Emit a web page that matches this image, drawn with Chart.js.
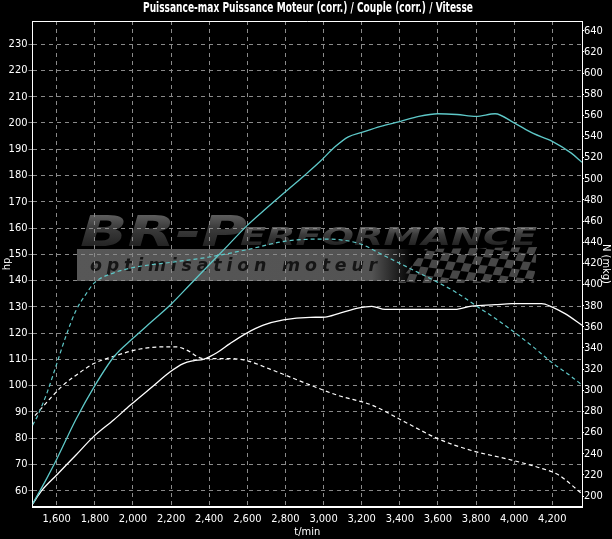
<!DOCTYPE html>
<html>
<head>
<meta charset="utf-8">
<script src="https://cdn.jsdelivr.net/npm/chart.js@4/dist/chart.umd.min.js"></script>
<style>
html,body{margin:0;padding:0;background:#000;}
canvas{display:block;}
</style>
</head>
<body>
<canvas id="c" width="612" height="539"></canvas>
<script>
// ---------- text ----------
const chartTitle = 'Puissance-max Puissance Moteur (corr.) / Couple (corr.) / Vitesse';
const xTitle = 't/min';
const leftTitle = 'hp';
const rightTitle = 'N (mkg)';

// ---------- tick labels ----------
const rpmTicks = [1600,1800,2000,2200,2400,2600,2800,3000,3200,3400,3600,3800,4000,4200];
const hpTicks = [60,70,80,90,100,110,120,130,140,150,160,170,180,190,200,210,220,230];
const nmTicks = [200,220,240,260,280,300,320,340,360,380,400,420,440,460,480,500,520,540,560,580,600,620,640];

// ---------- series: tuned power (hp) ----------
const tunedPowerRpm = [1474,1550,1600,1700,1800,1900,2000,2100,2200,2300,2400,2500,2600,2700,2800,2900,2980,3060,3130,3200,3300,3400,3500,3600,3700,3800,3900,4000,4100,4200,4300,4356];
const tunedPowerHp  = [55,65,72,87,100,111,118,124.5,131,138.5,146,153.5,161,167.5,173.8,180,185.2,190.9,194.7,196.4,198.7,200.5,202.5,203.5,203.2,202.5,203.5,200,196,193,188.5,185];

// ---------- series: tuned torque (Nm) ----------
const tunedTorqueRpm = [1474,1500,1550,1600,1650,1700,1750,1800,1900,2000,2200,2400,2600,2800,3000,3100,3200,3300,3400,3500,3600,3700,3800,3900,4000,4100,4200,4300,4356];
const tunedTorqueNm  = [267,276,298,325,352,375,390,402,411,416,421,426,433,441,443,442,438,429,420,411,402,392,380,368,355,341,326,313,305];

// ---------- series: stock power (hp) ----------
const stockPowerRpm = [1474,1521,1600,1700,1792,1900,1985,2100,2194,2264,2320,2369,2440,2509,2597,2684,2789,2929,3008,3078,3180,3253,3323,3500,3690,3777,3900,3987,4144,4197,4267,4356];
const stockPowerHp  = [55,60,66,73.5,80.5,87,92.5,99.5,105.2,108.4,109.5,110,112.5,116,120,123,125,126,126.1,127.4,129.5,130.2,129,129,129,130.3,130.8,131.2,131.2,130,127.4,123];

// ---------- series: stock torque (Nm) ----------
const stockTorqueRpm = [1486,1560,1635,1700,1792,1915,2037,2150,2230,2282,2369,2509,2597,2719,2929,3078,3253,3427,3602,3777,3987,4127,4232,4356];
const stockTorqueNm  = [276,291,305,314,325,333,339,341,341,338,330,330,328,320,305,295,286,270,254,243,234,227,220,202];

const NARROW = "'Liberation Sans Narrow','Arial Narrow','DejaVu Sans Condensed',sans-serif";
const CYAN = '#5ec8c8';
const GRID = '#8a8a8a';

function pts(xs, ys){ return xs.map((x,i)=>({x:x, y:ys[i]})); }

// ---------- helpers for stretched text ----------
function stretched(ctx, text, x, baseline, width, font, capH, spacing){
  ctx.font = font;
  if (spacing) ctx.letterSpacing = spacing + 'px';
  const w = ctx.measureText(text).width;
  ctx.save();
  ctx.translate(x, baseline);
  ctx.scale(width / w, 1);
  if (capH) {
    const g = ctx.createLinearGradient(0, -capH, 0, 0);
    g.addColorStop(0, '#5e5e5e');
    g.addColorStop(0.4, '#3c3c3c');
    g.addColorStop(1, '#242424');
    ctx.fillStyle = g;
  }
  ctx.fillText(text, 0, 0);
  ctx.restore();
  ctx.letterSpacing = '0px';
}

const decorPlugin = {
  id: 'decor',
  beforeDraw(chart){
    const ctx = chart.ctx;
    ctx.save();
    ctx.fillStyle = '#000';
    ctx.fillRect(0,0,chart.width,chart.height);
    // title (condensed)
    ctx.fillStyle = '#fff';
    ctx.textBaseline = 'middle';
    ctx.font = "bold 14px " + NARROW;
    const tw = ctx.measureText(chartTitle).width;
    const target = 330;
    ctx.save();
    ctx.translate(chart.width/2 + 2, 8);
    ctx.scale(target/tw, 1);
    ctx.textAlign = 'center';
    ctx.fillText(chartTitle, 0, 0);
    ctx.restore();
    ctx.textBaseline = 'alphabetic';
    ctx.textAlign = 'left';
    // grey band of the watermark
    const bg = ctx.createLinearGradient(77,0,412,0);
    bg.addColorStop(0,'#575757');
    bg.addColorStop(0.88,'#535353');
    bg.addColorStop(1,'rgba(83,83,83,0)');
    ctx.fillStyle = bg;
    ctx.fillRect(77,249,335,32);
    // checkered flag
    ctx.save();
    ctx.beginPath();
    ctx.moveTo(398,283); ctx.lineTo(425,249); ctx.lineTo(537,247); ctx.lineTo(534,283); ctx.closePath();
    ctx.clip();
    ctx.fillStyle = '#474747';
    const s = 8;
    for (let i=0;i<22;i++){
      for (let j=-2;j<6;j++){
        if (((i+j)%2+2)%2!==0) continue;
        const x0 = 395 + i*s - j*3.2, y0 = 247 + j*s + i*0.9;
        ctx.beginPath();
        ctx.moveTo(x0,y0);
        ctx.lineTo(x0+s,y0+0.9);
        ctx.lineTo(x0+s-3.2,y0+0.9+s);
        ctx.lineTo(x0-3.2,y0+s);
        ctx.closePath();
        ctx.fill();
      }
    }
    ctx.restore();
    // slogan
    ctx.fillStyle = '#151515';
    stretched(ctx, 'optimisation moteur', 90, 271, 292, "italic bold 18px 'DejaVu Sans'", 0, 5);
    // brand
    stretched(ctx, 'BR-P', 80, 246, 167, "italic bold 42px 'DejaVu Sans'", 31);
    stretched(ctx, 'ERFORMANCE', 240, 245, 297, "italic bold 24px 'DejaVu Sans'", 18);
    ctx.restore();
  },
  afterDraw(chart){
    const a = chart.chartArea, ctx = chart.ctx;
    ctx.save();
    ctx.strokeStyle = '#fff';
    ctx.lineWidth = 1;
    ctx.beginPath();
    ctx.moveTo(a.left, a.top + 0.5);
    ctx.lineTo(a.right, a.top + 0.5);
    ctx.stroke();
    ctx.restore();
  }
};

const tickFont = {family: NARROW, size: 11};

new Chart(document.getElementById('c'), {
  type: 'line',
  data: {
    datasets: [
      {label:'Puissance (modifiée)', data: pts(tunedPowerRpm, tunedPowerHp), yAxisID:'y', borderColor: CYAN, borderWidth:1.3},
      {label:'Couple (modifié)', data: pts(tunedTorqueRpm, tunedTorqueNm), yAxisID:'y2', borderColor: CYAN, borderWidth:1.2, borderDash:[4,3]},
      {label:'Puissance (origine)', data: pts(stockPowerRpm, stockPowerHp), yAxisID:'y', borderColor: '#ffffff', borderWidth:1.3},
      {label:'Couple (origine)', data: pts(stockTorqueRpm, stockTorqueNm), yAxisID:'y2', borderColor: '#ffffff', borderWidth:1.2, borderDash:[4,3]}
    ]
  },
  options: {
    responsive: false,
    animation: false,
    elements: {
      point: {radius: 0},
      line: {cubicInterpolationMode: 'monotone', fill: false}
    },
    layout: {padding: {top: 21, left: 0, right: 0, bottom: 0}},
    plugins: {
      legend: {display: false},
      tooltip: {enabled: false},
      title: {display: false}
    },
    scales: {
      x: {
        type: 'linear', position: 'bottom', min: 1473, max: 4356,
        afterBuildTicks: s => { s.ticks = rpmTicks.map(v => ({value: v})); },
        afterFit: s => { s.height = 32; },
        ticks: {color: '#fff', font: tickFont, padding: 6, maxRotation: 0, autoSkip: false,
          callback: v => Number(v).toLocaleString('en-US')},
        grid: {color: GRID, drawTicks: false, lineWidth: 1},
        border: {display: true, color: '#fff', width: 2, dash: [4,4]},
        title: {display: true, text: xTitle, color: '#fff', font: tickFont, padding: {top: 0, bottom: 0}}
      },
      y: {
        type: 'linear', position: 'left', min: 53.8, max: 238.8,
        afterBuildTicks: s => { s.ticks = hpTicks.map(v => ({value: v})); },
        afterFit: s => { s.width = 32.5; },
        ticks: {color: '#fff', font: tickFont, padding: 1, autoSkip: false},
        grid: {color: GRID, drawTicks: true, tickLength: 4, tickColor: GRID, lineWidth: 1},
        border: {display: true, color: '#fff', width: 1, dash: [4,4]},
        title: {display: true, text: leftTitle, color: '#fff', font: tickFont, padding: {top: 1, bottom: 0}}
      },
      y2: {
        type: 'linear', position: 'right', min: 189.6, max: 649.2,
        afterBuildTicks: s => { s.ticks = nmTicks.map(v => ({value: v})); },
        afterFit: s => { s.width = 30; },
        ticks: {color: '#fff', font: tickFont, padding: 0, autoSkip: false},
        grid: {drawOnChartArea: false, drawTicks: true, tickLength: 2, tickColor: '#fff'},
        border: {display: true, color: '#fff', width: 1},
        title: {display: true, text: rightTitle, color: '#fff', font: tickFont, padding: {top: 0, bottom: 0}}
      }
    }
  },
  plugins: [decorPlugin]
});
</script>
</body>
</html>
